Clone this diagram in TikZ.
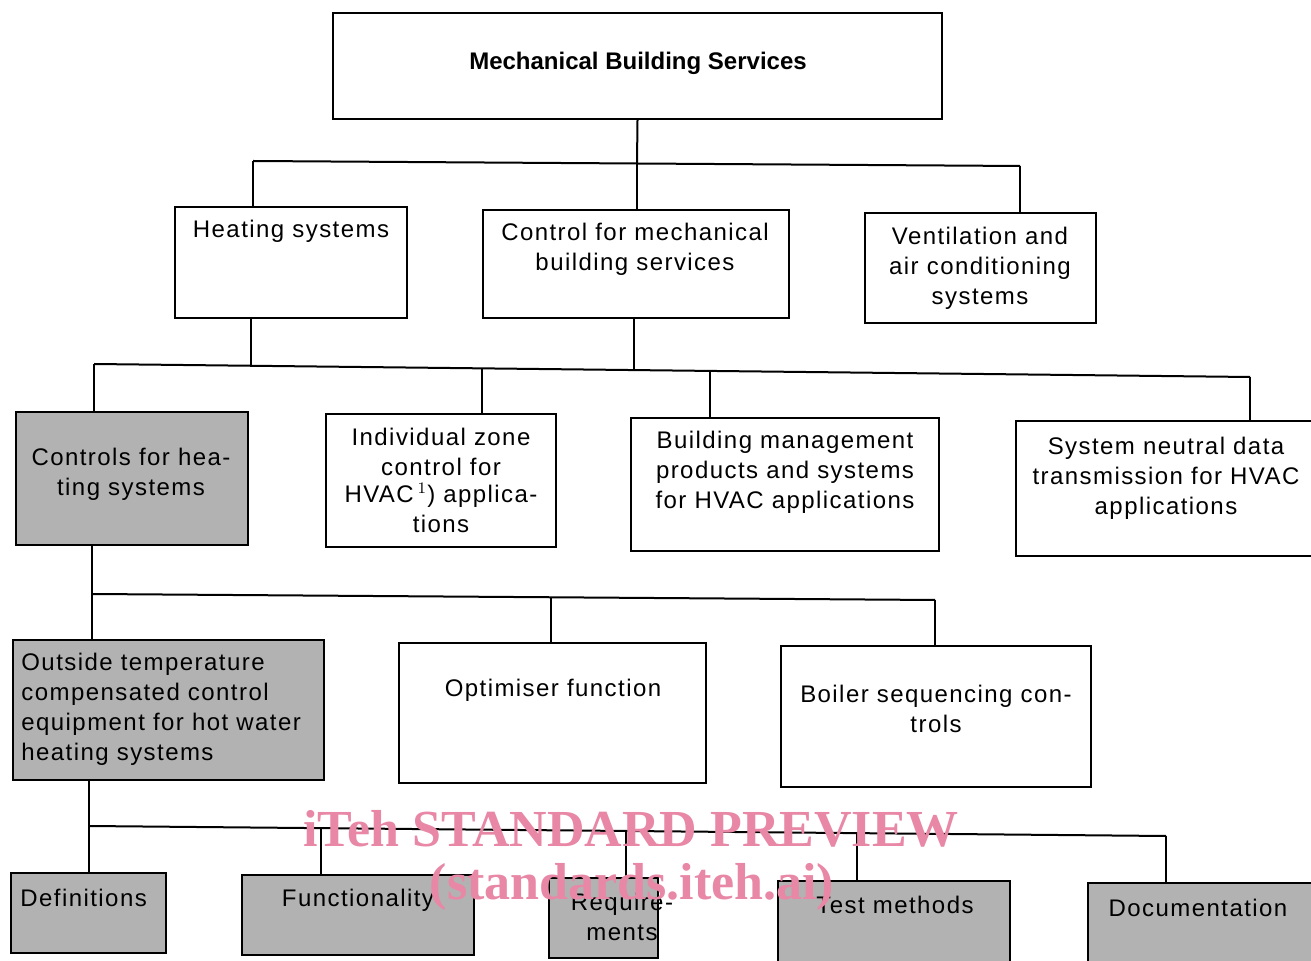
\documentclass[tikz,border=0pt]{standalone}
\usepackage{fontspec}
\setmainfont{Liberation Sans}[LetterSpace=6]
\newfontfamily\boldhead{Liberation Sans}[LetterSpace=0]
\newfontfamily\wmfont{Liberation Serif}
\usetikzlibrary{fit}
\definecolor{wmpink}{RGB}{232,136,166}
\tikzset{
  box/.style={draw, line width=1pt, inner sep=0pt},
  shadebox/.style={box, fill=black!30},
  txt/.style={font=\fontsize{12}{15}\selectfont, align=center, inner sep=0pt},
  ltxt/.style={txt, align=left, anchor=west},
  conn/.style={line width=1pt},
  wm/.style={text=wmpink, inner sep=0pt, font=\wmfont\bfseries\fontsize{26}{28}\selectfont}
}
\begin{document}
\begin{tikzpicture}[x=0.5pt, y=-0.5pt]
\useasboundingbox (0,0) rectangle (1311,961);
% boxes
\node[box, fit={(333,13)(942,119)}] (top) {};
\node[box, fit={(175,207)(407,318)}] (heat) {};
\node[box, fit={(483,210)(789,318)}] (ctrl) {};
\node[box, fit={(865,213)(1096,323)}] (vent) {};
\node[shadebox, fit={(16,412)(248,545)}] (chs) {};
\node[box, fit={(326,414)(556,547)}] (izc) {};
\node[box, fit={(631,418)(939,551)}] (bms) {};
\node[box, fit={(1016,421)(1320,556)}] (snd) {};
\node[shadebox, fit={(13,640)(324,780)}] (ots) {};
\node[box, fit={(399,643)(706,783)}] (opt) {};
\node[box, fit={(781,646)(1091,787)}] (boil) {};
\node[shadebox, fit={(11,873)(166,953)}] (def) {};
\node[shadebox, fit={(242,875)(474,955)}] (func) {};
\node[shadebox, fit={(549,878)(658,958)}] (req) {};
\node[shadebox, fit={(778,881)(1010,970)}] (test) {};
\node[shadebox, fit={(1088,883)(1320,970)}] (doc) {};
% texts
\node[txt, font=\boldhead\bfseries\fontsize{12}{15}\selectfont] (topT) at (638,63) {Mechanical Building Services};
\node[txt] (heatT) at (291,231) {Heating systems};
\node[txt] (ctrlT) at (635,249) {Control for mechanical\\building services};
\node[txt] (ventT) at (980,268) {Ventilation and\\air conditioning\\systems};
\node[txt] (chsT) at (131,474) {Controls for hea-\\ting systems};
\node[txt] (izcT) at (441,480) {Individual zone\\control for\\[-1.5pt]HVAC\,$^{1}$) applica-\\tions};
\node[txt] (bmsT) at (785,472) {Building management\\products and systems\\for HVAC applications};
\node[txt] (sndT) at (1166,478) {System neutral data\\transmission for HVAC\\applications};
\node[ltxt] (otsT) at (21,709) {Outside temperature\\compensated control\\equipment for hot water\\heating systems};
\node[txt] (optT) at (553,690) {Optimiser function};
\node[txt] (boilT) at (936,709) {Boiler sequencing con-\\trols};
\node[ltxt] (defT) at (20,898) {Definitions};
\node[txt] (funcT) at (358,900) {Functionality};
\node[txt] (reqT) at (622,917) {Require-\\ments};
\node[txt] (testT) at (895,905) {Test methods};
\node[txt] (docT) at (1198,908) {Documentation};
% connectors level 1
\coordinate (b1L) at (253,161);
\coordinate (b1R) at (1020,166);
\coordinate (b1M) at (637,163);
\draw[conn] (top.south) -- (b1M);
\draw[conn] (b1L) -- (b1R);
\draw[conn] (b1L) -- (b1L |- heat.north);
\draw[conn] (b1M) -- (b1M |- ctrl.north);
\draw[conn] (b1R) -- (b1R |- vent.north);
% level 2
\coordinate (b2L) at (94,364);
\coordinate (b2R) at (1250,377);
\coordinate (b2a) at (251,366);
\coordinate (b2b) at (482,368);
\coordinate (b2c) at (634,370);
\coordinate (b2d) at (710,371);
\draw[conn] (b2L) -- (b2R);
\draw[conn] (b2a |- heat.south) -- (b2a);
\draw[conn] (b2c |- ctrl.south) -- (b2c);
\draw[conn] (b2L) -- (b2L |- chs.north);
\draw[conn] (b2b) -- (b2b |- izc.north);
\draw[conn] (b2d) -- (b2d |- bms.north);
\draw[conn] (b2R) -- (b2R |- snd.north);
% level 3
\coordinate (b3L) at (92,594);
\coordinate (b3R) at (935,600);
\coordinate (b3M) at (551,597);
\draw[conn] (b3L |- chs.south) -- (b3L);
\draw[conn] (b3L) -- (b3R);
\draw[conn] (b3L) -- (b3L |- ots.north);
\draw[conn] (b3M) -- (b3M |- opt.north);
\draw[conn] (b3R) -- (b3R |- boil.north);
% level 4
\coordinate (b4L) at (89,826);
\coordinate (b4R) at (1166,836);
\coordinate (b4a) at (321,828);
\coordinate (b4b) at (626,831);
\coordinate (b4c) at (857,833);
\draw[conn] (b4L |- ots.south) -- (b4L);
\draw[conn] (b4L) -- (b4R);
\draw[conn] (b4L) -- (b4L |- def.north);
\draw[conn] (b4a) -- (b4a |- func.north);
\draw[conn] (b4b) -- (b4b |- req.north);
\draw[conn] (b4c) -- (b4c |- test.north);
\draw[conn] (b4R) -- (b4R |- doc.north);
% watermark
\node[wm] (wm1) at (631,829) {iTeh STANDARD PREVIEW};
\node[wm] (wm2) at (632,887) {(standards.iteh.ai)};
\end{tikzpicture}
\end{document}
